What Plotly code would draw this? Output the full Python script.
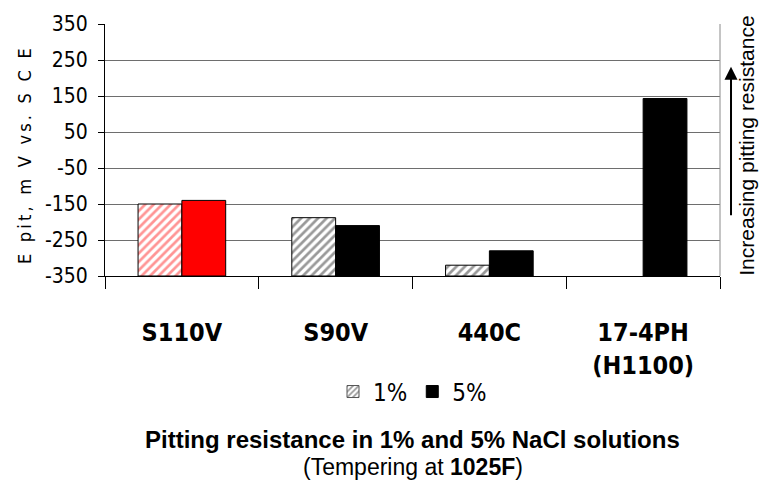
import plotly.graph_objects as go

# ---- data ----
categories = ["S110V", "S90V", "440C", "17-4PH<br>(H1100)"]
nacl_1pct = [-150, -188, -320, None]
nacl_5pct = [-140, -210, -280, 143]
y_ticks = [-350, -250, -150, -50, 50, 150, 250, 350]
axis_floor = -350

hatch_colors_1pct = ["#ff2a2a", "#333333", "#333333", "#333333"]
fill_colors_5pct = ["#ff0000", "#000000", "#000000", "#000000"]

NARROW = "DejaVu Sans Condensed"
REG = "Liberation Sans, Arial, sans-serif"


def heights(vals):
    return [None if v is None else v - axis_floor for v in vals]


fig = go.Figure()

fig.add_bar(
    x=categories, y=heights(nacl_1pct), base=axis_floor, name="1%",
    offsetgroup="a", showlegend=False,
    marker=dict(color="white",
                pattern=dict(shape="/", fgcolor=hatch_colors_1pct, bgcolor="white",
                             size=6, solidity=0.45),
                line=dict(color="black", width=1)),
)
fig.add_bar(
    x=categories, y=heights(nacl_5pct), base=axis_floor, name="5%",
    offsetgroup="b", showlegend=False,
    marker=dict(color=fill_colors_5pct, line=dict(color="black", width=1)),
)
# legend entries (no data)
fig.add_bar(
    x=[categories[0]], y=[None], base=axis_floor, name="1%", offsetgroup="a",
    marker=dict(color="white",
                pattern=dict(shape="/", fgcolor="#333333", bgcolor="white", size=5, solidity=0.45),
                line=dict(color="#555", width=1)),
)
fig.add_bar(
    x=[categories[0]], y=[None], base=axis_floor, name="5%", offsetgroup="b",
    marker=dict(color="black", line=dict(color="black", width=1)),
)

fig.update_layout(
    width=772, height=484,
    margin=dict(l=105, r=52, t=21, b=208),
    paper_bgcolor="white", plot_bgcolor="white",
    barmode="group", bargap=0.43, bargroupgap=0,
    showlegend=True,
    legend=dict(orientation="h", x=0.5, xanchor="center", y=-0.46, yanchor="middle",
                font=dict(family=NARROW, size=24, color="black"),
                itemwidth=30, bgcolor="rgba(0,0,0,0)"),
    font=dict(family=NARROW, color="black"),
)

fig.update_xaxes(
    type="category", tickson="boundaries", ticks="outside", ticklen=12,
    tickcolor="black", tickwidth=1,
    showline=True, linecolor="black", linewidth=1,
    showgrid=False,
    tickfont=dict(family=NARROW, size=25, color="black", weight="bold"),
    ticklabelstandoff=34,
)
fig.update_yaxes(
    range=[-350, 350], tickvals=y_ticks, ticktext=[str(v) for v in y_ticks],
    ticks="outside", ticklen=6, tickcolor="black",
    showline=True, linecolor="black", linewidth=1,
    showgrid=True, gridcolor="#6e6e6e", gridwidth=1,
    zeroline=False,
    tickfont=dict(family=NARROW, size=21, color="black"),
    ticklabelstandoff=6,
)

# right border of the plot area
fig.add_shape(type="line", xref="paper", yref="paper", x0=1, x1=1, y0=0, y1=1,
              line=dict(color="#8a8a8a", width=1))

ytitle = "\u2009".join("E pit, m V vs. S C E")
fig.add_annotation(text=ytitle, xref="paper", yref="paper", x=-0.132, y=0.475,
                   xanchor="center", yanchor="middle", textangle=-90, showarrow=False,
                   font=dict(family=NARROW, size=18, color="black"))

fig.add_annotation(text="Increasing pitting resistance", xref="paper", yref="paper",
                   x=1.0435, y=0.516, xanchor="center", yanchor="middle", textangle=-90,
                   showarrow=False, font=dict(family=REG, size=21, color="black"))

fig.add_annotation(text="", xref="paper", yref="paper", x=1.0179, y=0.83,
                   ax=0, ay=150, showarrow=True, arrowhead=2, arrowsize=1.3,
                   arrowwidth=2, arrowcolor="black")

fig.add_annotation(text="<b>Pitting resistance in 1% and 5% NaCl solutions</b>",
                   xref="paper", yref="paper", x=0.5, y=-0.647, xanchor="center",
                   yanchor="middle", showarrow=False,
                   font=dict(family=REG, size=24, color="black"))
fig.add_annotation(text="(Tempering at <b>1025F</b>)",
                   xref="paper", yref="paper", x=0.5, y=-0.757, xanchor="center",
                   yanchor="middle", showarrow=False,
                   font=dict(family=REG, size=23, color="black"))

fig.write_html("out.html", config={"displayModeBar": False},
               post_script="document.body.style.margin='0';")
